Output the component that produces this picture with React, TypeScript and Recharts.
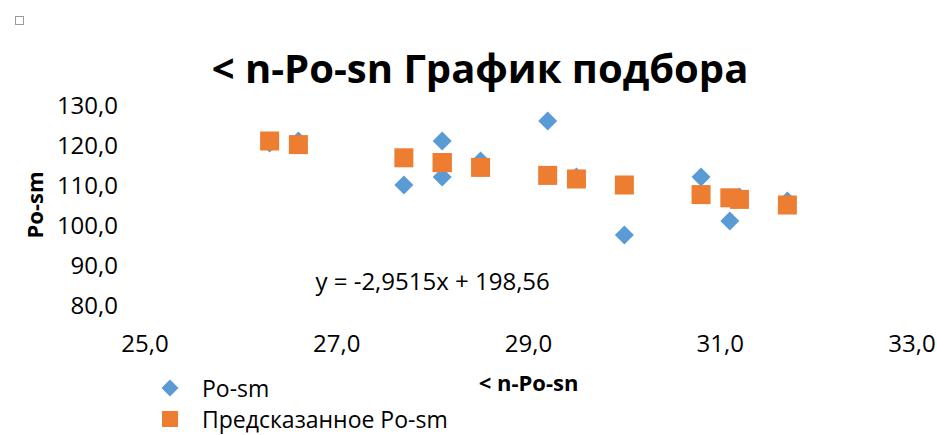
import React from 'react';
import {
  ScatterChart,
  Scatter,
  XAxis,
  YAxis,
  Legend,
  ReferenceDot,
} from 'recharts';

// ── Data ─────────────────────────────────────────────────────────────────────

const X_VALUES = [26.3, 26.6, 27.7, 28.1, 28.1, 28.5, 29.2, 29.5, 30.0, 30.8, 31.1, 31.2, 31.7];
const ACTUAL = [120.5, 121, 110, 121, 112, 116, 126, 112, 97.5, 112, 101, 107, 106];
const PREDICTED = [121.0, 120.1, 116.8, 115.6, 115.6, 114.4, 112.4, 111.5, 110.0, 107.6, 106.8, 106.4, 105.0];

const X_TICKS = [25, 27, 29, 31, 33];
const Y_TICKS = [80, 90, 100, 110, 120, 130];

const SERIES_NAMES = ['Po-sm', 'Предсказанное Po-sm'];
const TITLE = '< n-Po-sn График подбора';
const X_LABEL = '< n-Po-sn';
const Y_LABEL = 'Po-sm';
const TREND_TEXT = 'y = -2,9515x + 198,56';
const TREND_POS = { x: 28.0, y: 86 };

// ── Styles ───────────────────────────────────────────────────────────────────

const FONT = '"Open Sans", "Noto Sans", sans-serif';
const BLUE = '#5B9BD5';
const ORANGE = '#ED7D31';
const MARK = 19;
const TICK_FONT = 24;

const actualRows = X_VALUES.map((x, i) => ({ x, y: ACTUAL[i] }));
const predictedRows = X_VALUES.map((x, i) => ({ x, y: PREDICTED[i] }));

const fmt = (v: number) => v.toFixed(1).replace('.', ',');

// ── Markers ──────────────────────────────────────────────────────────────────

function Diamond({ cx, cy, size = MARK }: { cx?: number; cy?: number; size?: number }) {
  if (cx == null || cy == null) return null;
  const h = size / 2;
  return (
    <polygon
      points={`${cx},${cy - h} ${cx + h},${cy} ${cx},${cy + h} ${cx - h},${cy}`}
      fill={BLUE}
    />
  );
}

function Square({ cx, cy, size = MARK }: { cx?: number; cy?: number; size?: number }) {
  if (cx == null || cy == null) return null;
  return <rect x={cx - size / 2} y={cy - size / 2} width={size} height={size} fill={ORANGE} />;
}

function LegendBox() {
  const rowStyle: React.CSSProperties = {
    display: 'flex',
    alignItems: 'center',
    height: 22,
    fontSize: 23,
    color: '#000',
  };
  const textStyle: React.CSSProperties = {
    display: 'block',
    height: 22,
    lineHeight: '22px',
    whiteSpace: 'nowrap',
  };
  return (
    <div style={{ fontFamily: FONT }}>
      <div style={rowStyle}>
        <svg width={42} height={20}>
          <Diamond cx={10} cy={10} size={17} />
        </svg>
        <span style={textStyle}>{SERIES_NAMES[0]}</span>
      </div>
      <div style={{ ...rowStyle, marginTop: 9 }}>
        <svg width={42} height={20}>
          <Square cx={10} cy={10} size={16} />
        </svg>
        <span style={textStyle}>{SERIES_NAMES[1]}</span>
      </div>
    </div>
  );
}

// ── Component ────────────────────────────────────────────────────────────────

export default function App() {
  return (
    <div
      style={{
        position: 'absolute',
        left: 0,
        top: 0,
        width: 937,
        height: 435,
        background: '#fff',
        fontFamily: FONT,
      }}
    >
      <div
        style={{
          position: 'absolute',
          left: 15,
          top: 16,
          width: 7,
          height: 7,
          border: '1px solid #9a9a9a',
        }}
      />
      <div
        style={{
          position: 'absolute',
          left: 0,
          top: 43,
          width: 960,
          textAlign: 'center',
          fontSize: 40,
          fontWeight: 700,
          lineHeight: '50px',
          color: '#000',
        }}
      >
        {TITLE}
      </div>
      <ScatterChart
        width={937}
        height={435}
        margin={{ top: 105, right: 25, bottom: 40, left: 65 }}
        style={{ position: 'absolute', left: 0, top: 0 }}
      >
        <XAxis
          type="number"
          dataKey="x"
          domain={[25, 33]}
          ticks={X_TICKS}
          tickFormatter={fmt}
          axisLine={false}
          tickLine={false}
          tickSize={0}
          tickMargin={30}
          height={90}
          tick={{ fontSize: TICK_FONT, fill: '#000', fontFamily: FONT }}
          label={{
            value: X_LABEL,
            position: 'insideBottom',
            offset: 4,
            style: { fontSize: 22, fontWeight: 700, fill: '#000', fontFamily: FONT },
          }}
        />
        <YAxis
          type="number"
          dataKey="y"
          domain={[80, 130]}
          ticks={Y_TICKS}
          tickFormatter={fmt}
          axisLine={false}
          tickLine={false}
          tickSize={0}
          tickMargin={27}
          width={80}
          tick={{ fontSize: TICK_FONT, fill: '#000', fontFamily: FONT }}
          label={{
            value: Y_LABEL,
            angle: -90,
            position: 'insideLeft',
            offset: -30,
            style: {
              fontSize: 22,
              fontWeight: 700,
              fill: '#000',
              fontFamily: FONT,
              textAnchor: 'middle',
            },
          }}
        />
        <Scatter
          name={SERIES_NAMES[0]}
          data={actualRows}
          shape={(p: any) => <Diamond cx={p.cx} cy={p.cy} />}
          isAnimationActive={false}
        />
        <Scatter
          name={SERIES_NAMES[1]}
          data={predictedRows}
          shape={(p: any) => <Square cx={p.cx} cy={p.cy} />}
          isAnimationActive={false}
        />
        <ReferenceDot
          x={TREND_POS.x}
          y={TREND_POS.y}
          r={0}
          fill="none"
          stroke="none"
          label={{
            value: TREND_TEXT,
            position: 'center',
            style: { fontSize: TICK_FONT, fill: '#000', fontFamily: FONT },
          }}
        />
        <Legend
          layout="vertical"
          align="center"
          verticalAlign="middle"
          wrapperStyle={{ left: 160, top: 377, width: 320 }}
          content={() => <LegendBox />}
        />
      </ScatterChart>
    </div>
  );
}
